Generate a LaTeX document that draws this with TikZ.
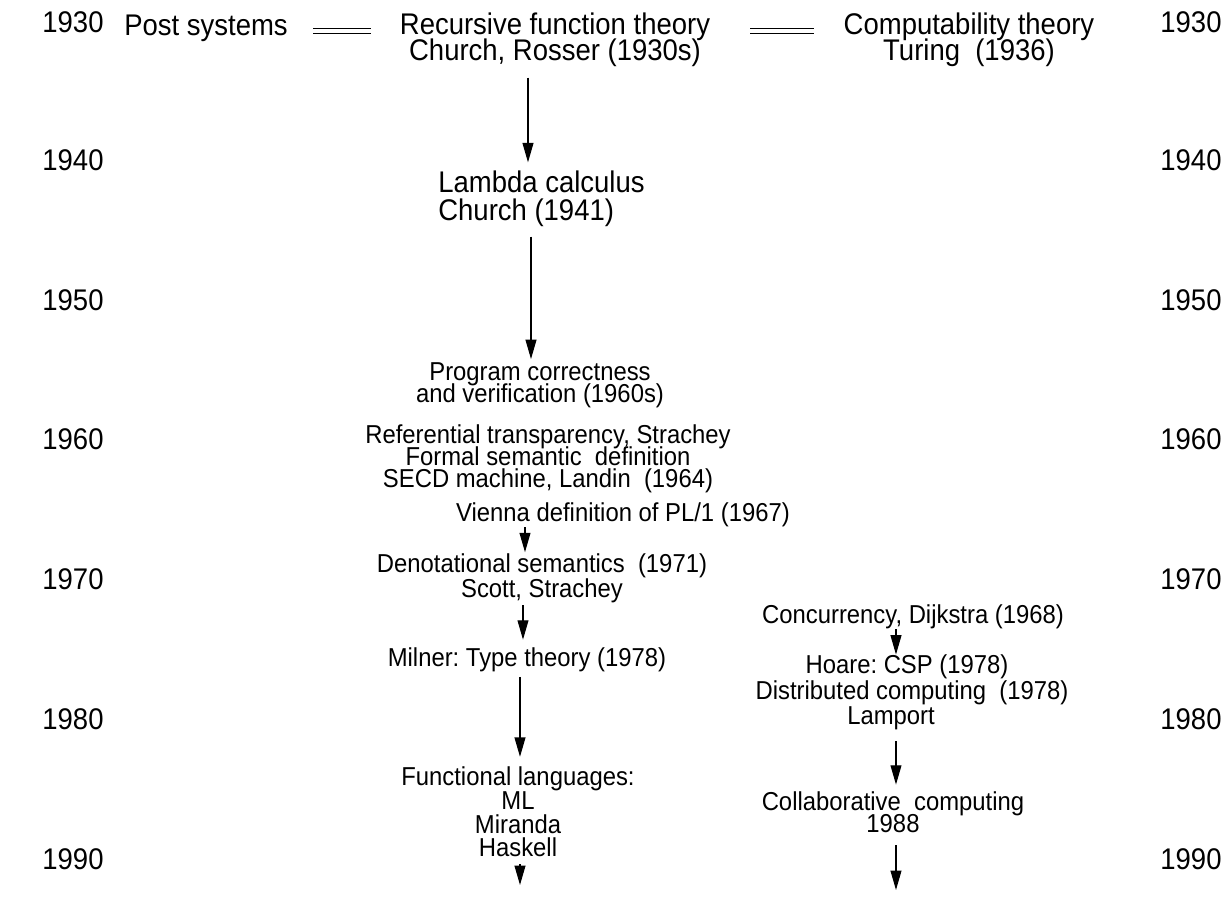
\documentclass[tikz,border=0pt]{standalone}
\usepackage{fontspec}
\setmainfont{Liberation Sans}[FakeStretch=0.92]
\usetikzlibrary{arrows.meta}

\begin{document}
\frenchspacing
\begin{tikzpicture}[scale=0.2]
          \tikzstyle{every node}+=[inner sep=0pt]
          \tikzstyle{bigtext}=[font={\fontsize{17}{14.7}\selectfont\lineskiplimit=-20pt}, align=center]
          \tikzstyle{smalltext}=[font={\fontsize{14.75}{12.5}\selectfont\lineskiplimit=-20pt}, align=center]
          \tikzstyle{arr}=[black, line width=0.65pt, -{Triangle[length=11pt,width=6.2pt]}]
          \tikzstyle{dbl}=[black, line width=0.75pt, double, double distance=2.1pt]
          \useasboundingbox (0,0) rectangle (123.2,-92.4);
          % decades, left and right
          \node [bigtext] (yl1930) at (7.3,-2.25) {1930};
          \node [bigtext] (yl1940) at (7.3,-16.0) {1940};
          \node [bigtext] (yl1950) at (7.3,-30.0) {1950};
          \node [bigtext] (yl1960) at (7.3,-43.9) {1960};
          \node [bigtext] (yl1970) at (7.3,-57.9) {1970};
          \node [bigtext] (yl1980) at (7.3,-71.9) {1980};
          \node [bigtext] (yl1990) at (7.3,-85.9) {1990};
          \node [bigtext] (yr1930) at (119.1,-2.25) {1930};
          \node [bigtext] (yr1940) at (119.1,-16.0) {1940};
          \node [bigtext] (yr1950) at (119.1,-30.0) {1950};
          \node [bigtext] (yr1960) at (119.1,-43.9) {1960};
          \node [bigtext] (yr1970) at (119.1,-57.9) {1970};
          \node [bigtext] (yr1980) at (119.1,-71.9) {1980};
          \node [bigtext] (yr1990) at (119.1,-85.9) {1990};
          % top row
          \node [bigtext] (post) at (20.6,-2.8) {Post systems};
          \node [bigtext] (rec) at (55.5,-4.0) {Recursive function theory\\Church, Rosser (1930s)};
          \node [bigtext] (comp) at (96.9,-4.0) {Computability theory\\Turing~ (1936)};
          \node [bigtext, align=left, anchor=west] (lam) at (43.8,-19.9) {Lambda calculus\\[1.2pt]Church (1941)};
          % semantics column
          \node [smalltext] (prog) at (54.0,-38.5) {Program correctness\\and verification (1960s)};
          \node [smalltext] (ref) at (54.8,-45.9) {Referential transparency, Strachey\\Formal semantic~ definition\\SECD machine, Landin~ (1964)};
          \node [smalltext] (vienna) at (62.3,-51.5) {Vienna definition of PL/1 (1967)};
          \node [smalltext] (denot) at (54.2,-57.8) {Denotational semantics~ (1971)\\[1.7pt]Scott, Strachey};
          \node [smalltext] (milner) at (52.7,-66.0) {Milner: Type theory (1978)};
          \node [smalltext] (func) at (51.8,-81.2) {Functional languages:\\[0.9pt]ML\\[0.9pt]Miranda\\[0.9pt]Haskell};
          % concurrency column
          \node [smalltext] (conc) at (91.3,-61.7) {Concurrency, Dijkstra (1968)};
          \node [smalltext] (hoare) at (90.7,-66.7) {Hoare: CSP (1978)};
          \node [smalltext] (dist) at (91.2,-69.3) {Distributed computing~ (1978)};
          \node [smalltext] (lamport) at (89.1,-71.8) {Lamport};
          \node [smalltext] (collab) at (89.3,-81.25) {Collaborative~ computing\\1988};
          % arrow columns and free ends
          \coordinate (eqy) at (0,-3.08);
          \coordinate (l1) at (52.8,0);
          \coordinate (l2) at (53.1,0);
          \coordinate (l3) at (52.5,0);
          \coordinate (l4) at (52.3,0);
          \coordinate (l5) at (52.0,0);
          \coordinate (rcol) at (89.6,0);
          \coordinate (lend) at (52.0,-88.5);
          \coordinate (rend) at (89.6,-89.0);
          % equivalences
          \draw [dbl, shorten <=14.2pt, shorten >=16.4pt] (post.east |- eqy) -- (rec.west |- eqy);
          \draw [dbl, shorten <=22.7pt, shorten >=17pt] (rec.east |- eqy) -- (comp.west |- eqy);
          % arrows
          \draw [arr, shorten <=6pt, shorten >=4.8pt] (l1 |- rec.south) -- (l1 |- lam.north);
          \draw [arr, shorten <=5.4pt, shorten >=1.7pt] (l2 |- lam.south) -- (l2 |- prog.north);
          \draw [arr, shorten >=0.5pt] (l3 |- vienna.south) -- (l3 |- denot.north);
          \draw [arr, shorten <=1.4pt, shorten >=4.5pt] (l4 |- denot.south) -- (l4 |- milner.north);
          \draw [arr, shorten <=2.6pt, shorten >=5.7pt] (l5 |- milner.south) -- (l5 |- func.north);
          \draw [arr, shorten <=4pt] (lend |- func.south) -- (lend);
          \draw [arr] (rcol |- conc.south) -- (rcol |- hoare.north);
          \draw [arr, shorten <=6.5pt, shorten >=4pt] (rcol |- lamport.south) -- (rcol |- collab.north);
          \draw [arr, shorten <=6.8pt] (rcol |- collab.south) -- (rend);
\end{tikzpicture}
\end{document}
